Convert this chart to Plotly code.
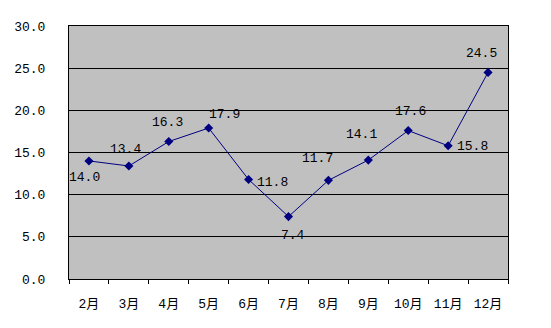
import plotly.graph_objects as go

months = ["2月", "3月", "4月", "5月", "6月", "7月", "8月", "9月", "10月", "11月", "12月"]
values = [14.0, 13.4, 16.3, 17.9, 11.8, 7.4, 11.7, 14.1, 17.6, 15.8, 24.5]
labels = ["14.0", "13.4", "16.3", "17.9", "11.8", "7.4", "11.7", "14.1", "17.6", "15.8", "24.5"]
y_ticks = [0, 5, 10, 15, 20, 25, 30]
y_tick_text = ["0.0", "5.0", "10.0", "15.0", "20.0", "25.0", "30.0"]

# label offsets in pixels (dx, dy up positive) - styling only
label_shift = [(-4, -17), (-3, 16), (-1, 19), (16, 14), (24, -3), (4, -19),
               (-11, 22), (-7, 26), (2, 19), (24, -1), (-7, 19)]

FONT = "Liberation Mono, Noto Sans CJK SC, monospace"

fig = go.Figure()
fig.add_trace(go.Scatter(
    x=months, y=values, mode="lines+markers",
    line=dict(color="#000080", width=1),
    marker=dict(symbol="diamond", size=7, color="#000080"),
    cliponaxis=False,
))
for m, v, t, (dx, dy) in zip(months, values, labels, label_shift):
    fig.add_annotation(x=m, y=v, text=t, showarrow=False, xshift=dx, yshift=dy,
                       font=dict(family=FONT, size=13, color="black"))

fig.update_layout(
    width=551, height=328,
    margin=dict(l=69, r=43, t=26, b=49),
    paper_bgcolor="white", plot_bgcolor="#C0C0C0",
    showlegend=False,
    font=dict(family=FONT, size=13, color="black"),
    xaxis=dict(
        type="category", tickson="boundaries", ticks="outside", ticklen=4,
        tickcolor="black", showline=True, linecolor="black", linewidth=1,
        mirror=True, showgrid=False, range=[-0.5, 10.5],
        ticklabelstandoff=12,
    ),
    yaxis=dict(
        range=[0, 30], tickvals=y_ticks, ticktext=y_tick_text,
        showline=True, linecolor="black", linewidth=1, mirror=True,
        showgrid=True, gridcolor="black", gridwidth=1, zeroline=False,
        ticks="", ticklabelstandoff=20,
    ),
)
fig.write_html("out.html")
